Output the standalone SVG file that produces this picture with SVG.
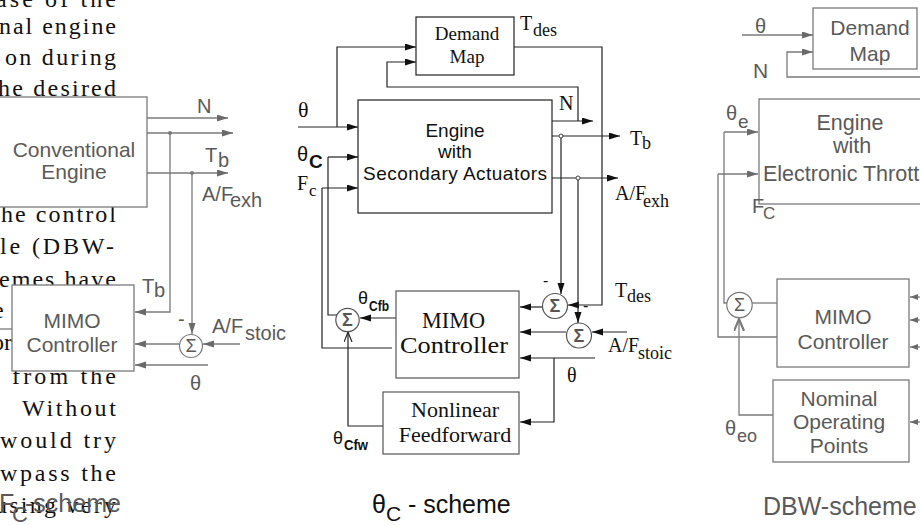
<svg xmlns="http://www.w3.org/2000/svg" width="920" height="525" viewBox="0 0 920 525">
<style>
.bg{font-family:"Liberation Serif",serif;font-size:24px;fill:#111}
.gs{font-family:"Liberation Sans",Arial,sans-serif;fill:#5a5a5a}
.bs{font-family:"Liberation Sans",Arial,sans-serif;fill:#111}
.sr{font-family:"Liberation Serif",serif;fill:#111}
.gl{fill:none;stroke:#7a7a7a;stroke-width:1.3}
.bl{fill:none;stroke:#222;stroke-width:1.2}
.gbox{fill:#fff;stroke:#7a7a7a;stroke-width:1.3}
.bbox{fill:#fff;stroke:#222;stroke-width:1.2}
.mbox{fill:#fff;stroke:#555;stroke-width:1.2}
.sumg{fill:#fff;stroke:#7a7a7a;stroke-width:1.2}
.sumb{fill:#fff;stroke:#555;stroke-width:1.2}
.sig{font-family:"Liberation Sans",Arial,sans-serif;font-weight:bold;font-size:18px;fill:#555}
</style>
<defs>
<marker id="ab" markerUnits="userSpaceOnUse" markerWidth="12" markerHeight="8" refX="11" refY="3.5" orient="auto"><path d="M0,0 L11,3.5 L0,7 Z" fill="#111"/></marker>
<marker id="ag" markerUnits="userSpaceOnUse" markerWidth="12" markerHeight="8" refX="11" refY="3.5" orient="auto"><path d="M0,0 L11,3.5 L0,7 Z" fill="#6a6a6a"/></marker>
<marker id="ags" markerUnits="userSpaceOnUse" markerWidth="10" markerHeight="7" refX="8" refY="3" orient="auto"><path d="M0,0 L8,3 L0,6 Z" fill="#6a6a6a"/></marker>
<marker id="av" markerUnits="userSpaceOnUse" markerWidth="12" markerHeight="10" refX="10" refY="4" orient="auto"><path d="M0,0 L10,4 L0,8" fill="none" stroke="#222" stroke-width="1.2"/></marker>
<marker id="avg" markerUnits="userSpaceOnUse" markerWidth="14" markerHeight="12" refX="12" refY="5" orient="auto"><path d="M0,0 L12,5 L0,10" fill="none" stroke="#7a7a7a" stroke-width="2.2"/></marker>
</defs>

<g id="page-text">
<text class="bg" x="-4" y="7" textLength="120" lengthAdjust="spacing">ase of the</text>
<text class="bg" x="-1" y="34" textLength="117" lengthAdjust="spacing">nal engine</text>
<text class="bg" x="5" y="65" textLength="111" lengthAdjust="spacing">on during</text>
<text class="bg" x="-2" y="96" textLength="118" lengthAdjust="spacing">he desired</text>
<text class="bg" x="1" y="222" textLength="115" lengthAdjust="spacing">he control</text>
<text class="bg" x="0" y="254" textLength="114" lengthAdjust="spacing">le (DBW-</text>
<text class="bg" x="-1" y="287" textLength="117" lengthAdjust="spacing">emes have</text>
<text class="bg" x="-7" y="318">e</text>
<text class="bg" x="-8" y="350">or</text>
<text class="bg" x="12" y="384" textLength="104" lengthAdjust="spacing">from the</text>
<text class="bg" x="22" y="416" textLength="94" lengthAdjust="spacing">Without</text>
<text class="bg" x="0" y="448" textLength="116" lengthAdjust="spacing">would try</text>
<text class="bg" x="0" y="481" textLength="116" lengthAdjust="spacing">wpass the</text>
<text class="bg" x="-5" y="513" textLength="121" lengthAdjust="spacing">using very</text>
</g>

<g id="connectors">
<!-- left -->
<path class="gl" d="M147,118 H228" marker-end="url(#ag)"/>
<path class="gl" d="M147,133 H233" marker-end="url(#ag)"/>
<path class="gl" d="M147,173 H228" marker-end="url(#ag)"/>
<path class="gl" d="M170,133 V312 H135" marker-end="url(#ag)"/>
<path class="gl" d="M192,173 V334" marker-end="url(#ag)"/>
<path class="gl" d="M240,344 H203" marker-end="url(#ag)"/>
<path class="gl" d="M179,344 H135" marker-end="url(#ag)"/>
<path class="gl" d="M208,365 H135" marker-end="url(#ag)"/>
<path class="gl" d="M0,329 H12"/>
<circle cx="170" cy="133" r="2" fill="#7a7a7a"/>
<circle cx="192" cy="173" r="2" fill="#7a7a7a"/>
<!-- middle -->
<path class="bl" d="M298,127 H358" marker-end="url(#ab)"/>
<path class="bl" d="M337,127 V47 H416" marker-end="url(#ab)"/>
<path class="bl" d="M578,121 V87 H387 V62 H416" marker-end="url(#ab)"/>
<path class="bl" d="M552,121 H593" marker-end="url(#ab)"/>
<path class="bl" d="M552,136 H620" marker-end="url(#ab)"/>
<path class="bl" d="M552,178 H618" marker-end="url(#ab)"/>
<path class="bl" d="M514,47 H602 V305 H568" marker-end="url(#ab)"/>
<path class="bl" d="M561,136 V294" marker-end="url(#ab)"/>
<path class="bl" d="M578,178 V323" marker-end="url(#ab)"/>
<path class="bl" d="M542,307 H520" marker-end="url(#ab)"/>
<path class="bl" d="M566,332 H520" marker-end="url(#ab)"/>
<path class="bl" d="M627,332 H592" marker-end="url(#ab)"/>
<path class="bl" d="M595,358 H520" marker-end="url(#ab)"/>
<path class="bl" d="M554,358 V422 H520" marker-end="url(#ab)"/>
<path class="bl" d="M328,157 H358" marker-end="url(#ab)"/>
<path class="bl" d="M328,157 V315 H337"/>
<path class="bl" d="M322,188 H358" marker-end="url(#ab)"/>
<path class="bl" d="M322,188 V348 H392"/>
<path class="bl" d="M396,318 H360" marker-end="url(#ab)"/>
<path class="bl" d="M383,426 H348 V332" marker-end="url(#av)"/>
<circle cx="561" cy="136" r="2" fill="#fff" stroke="#444" stroke-width="1"/>
<circle cx="578" cy="178" r="2" fill="#fff" stroke="#444" stroke-width="1"/>
<!-- right -->
<path class="gl" d="M742,35 H813" marker-end="url(#ag)"/>
<path class="gl" d="M920,77 H787 V52 H813" marker-end="url(#ag)" stroke-width="1.8"/>
<path class="gl" d="M724,132 H758" marker-end="url(#ag)"/>
<path class="gl" d="M724,132 V303 H727"/>
<path class="gl" d="M718,174 H758" marker-end="url(#ag)"/>
<path class="gl" d="M718,174 V337 H777"/>
<path class="gl" d="M752,303 H777"/>
<path class="gl" d="M773,415 H739 V319" marker-end="url(#avg)" stroke-width="2"/>
<path class="gl" d="M920,297 H910" marker-end="url(#ags)"/>
<path class="gl" d="M920,320 H910" marker-end="url(#ags)"/>
<path class="gl" d="M920,347 H910" marker-end="url(#ags)"/>
<path class="gl" d="M920,422 H910" marker-end="url(#ags)"/>
</g>

<!-- LEFT PANEL -->
<g id="conv-engine">
<rect class="gbox" x="-5" y="97" width="152" height="110"/>
<text class="gs" font-size="21" text-anchor="middle" x="74" y="157">Conventional</text>
<text class="gs" font-size="21" text-anchor="middle" x="74" y="179">Engine</text>
</g>
<g id="mimo-left">
<rect class="gbox" x="12" y="285" width="122" height="86"/>
<text class="gs" font-size="21" text-anchor="middle" x="72" y="328">MIMO</text>
<text class="gs" font-size="21" text-anchor="middle" x="72" y="352">Controller</text>
</g>
<g id="sum-left">
<circle class="sumg" cx="191" cy="346" r="11.5"/>
<text class="gs" font-size="18" text-anchor="middle" x="191" y="352">Σ</text>
</g>
<g id="labels-left" class="gs" font-size="20">
<text x="197" y="113">N</text>
<text x="205" y="162">T<tspan x="218" y="167">b</tspan></text>
<text x="202" y="201">A/F<tspan x="230" y="207">exh</tspan></text>
<text x="142" y="293">T<tspan x="154" y="297">b</tspan></text>
<text x="178" y="326">-</text>
<text x="212" y="333">A/F<tspan x="245" y="340">stoic</tspan></text>
<text x="190" y="390">θ</text>
<text font-size="25" x="-1" y="512">F<tspan font-size="22" x="12" y="522">C</tspan><tspan x="25" y="512">-scheme</tspan></text>
</g>

<!-- MIDDLE PANEL -->
<g id="demand-map-mid">
<rect class="bbox" x="416" y="17" width="98" height="58"/>
<text class="sr" font-size="19" text-anchor="middle" x="467" y="40">Demand</text>
<text class="sr" font-size="19" text-anchor="middle" x="467" y="63">Map</text>
</g>
<g id="engine-mid">
<rect class="bbox" x="358" y="100" width="194" height="113"/>
<text class="bs" font-size="19" text-anchor="middle" x="455" y="137">Engine</text>
<text class="bs" font-size="19" text-anchor="middle" x="455" y="158">with</text>
<text class="bs" font-size="19" x="363" y="180" textLength="184" lengthAdjust="spacing">Secondary  Actuators</text>
</g>
<g id="mimo-mid">
<rect class="mbox" x="396" y="291" width="123" height="87"/>
<text class="sr" font-size="23" x="422" y="328" textLength="63" lengthAdjust="spacingAndGlyphs">MIMO</text>
<text class="sr" font-size="23" x="400" y="353" textLength="108" lengthAdjust="spacingAndGlyphs">Controller</text>
</g>
<g id="feedforward-mid">
<rect class="mbox" x="383" y="392" width="136" height="62"/>
<text class="sr" font-size="22" text-anchor="middle" x="455" y="417">Nonlinear</text>
<text class="sr" font-size="22" text-anchor="middle" x="455" y="442">Feedforward</text>
</g>
<g id="sum-c">
<circle class="sumb" cx="347.5" cy="320" r="11.7"/>
<text class="sig" text-anchor="middle" x="347.5" y="326">Σ</text>
</g>
<g id="sum-t">
<circle class="sumb" cx="555" cy="306" r="12.5"/>
<text class="sig" text-anchor="middle" x="555" y="312">Σ</text>
</g>
<g id="sum-af">
<circle class="sumb" cx="579" cy="335.5" r="12.5"/>
<text class="sig" text-anchor="middle" x="579" y="341.5">Σ</text>
</g>
<g id="labels-mid">
<text class="sr" font-size="22" x="298" y="117">θ</text>
<text class="bs" font-size="20" x="297" y="161">θ<tspan font-size="19" font-weight="bold" x="309" y="168">C</tspan></text>
<text class="sr" font-size="20" x="297" y="190">F<tspan font-size="17" x="309" y="196">c</tspan></text>
<text class="sr" font-size="20" x="520" y="30">T<tspan font-size="18" x="533" y="36">des</tspan></text>
<text class="sr" font-size="20" x="559" y="110">N</text>
<text class="sr" font-size="20" x="630" y="145">T<tspan font-size="18" x="642" y="149">b</tspan></text>
<text class="sr" font-size="20" x="615" y="200">A/F<tspan font-size="18" x="643" y="207">exh</tspan></text>
<text class="sr" font-size="20" x="615" y="297">T<tspan font-size="18" x="627" y="302">des</tspan></text>
<text class="sr" font-size="20" x="608" y="352">A/F<tspan font-size="18" x="638" y="359">stoic</tspan></text>
<text class="sr" font-size="20" x="567" y="382">θ</text>
<text class="bs" font-size="16" x="543" y="286">-</text>
<text class="bs" font-size="16" x="583" y="311">-</text>
<text class="bs" font-size="18" x="358" y="304">θ<tspan font-size="15" font-weight="bold" x="369" y="311" textLength="20" lengthAdjust="spacingAndGlyphs">Cfb</tspan></text>
<text class="bs" font-size="18" x="333" y="444">θ<tspan font-size="15" font-weight="bold" x="344" y="450" textLength="24" lengthAdjust="spacingAndGlyphs">Cfw</tspan></text>
<text class="bs" font-size="25" x="372" y="513">θ<tspan font-size="21" x="386" y="521">C</tspan><tspan x="401" y="513"> - scheme</tspan></text>
</g>

<!-- RIGHT PANEL -->
<g id="demand-map-right">
<rect class="gbox" x="813" y="8" width="104" height="61"/>
<text class="gs" font-size="21" text-anchor="middle" x="870" y="35">Demand</text>
<text class="gs" font-size="21" text-anchor="middle" x="870" y="61">Map</text>
</g>
<g id="engine-right">
<rect class="gbox" x="759" y="99" width="200" height="105"/>
<text class="gs" font-size="21.5" text-anchor="middle" x="850" y="130">Engine</text>
<text class="gs" font-size="21.5" text-anchor="middle" x="852" y="153">with</text>
<text class="gs" font-size="21.5" x="763" y="181">Electronic Throttle</text>
</g>
<g id="mimo-right">
<rect class="gbox" x="777" y="279" width="132" height="88"/>
<text class="gs" font-size="21" text-anchor="middle" x="843" y="324">MIMO</text>
<text class="gs" font-size="21" text-anchor="middle" x="843" y="349">Controller</text>
</g>
<g id="nominal-right">
<rect class="gbox" x="773" y="380" width="136" height="82"/>
<text class="gs" font-size="21" text-anchor="middle" x="839" y="406">Nominal</text>
<text class="gs" font-size="21" text-anchor="middle" x="839" y="429">Operating</text>
<text class="gs" font-size="21" text-anchor="middle" x="839" y="453">Points</text>
</g>
<g id="sum-right">
<circle class="sumg" cx="739.5" cy="305" r="12.7"/>
<text class="gs" font-size="18" text-anchor="middle" x="739.5" y="311">Σ</text>
</g>
<g id="labels-right" class="gs">
<text font-size="20" x="755" y="33">θ</text>
<text font-size="21" x="753" y="78">N</text>
<text font-size="20" x="726" y="120">θ<tspan font-size="19" x="738" y="128">e</tspan></text>
<text font-size="20" x="752" y="213">F<tspan font-size="17" x="763" y="219">C</tspan></text>
<text font-size="20" x="725" y="435">θ<tspan font-size="18" x="737" y="442">eo</tspan></text>
<text font-size="25" x="763" y="515">DBW-scheme</text>
</g>
</svg>
